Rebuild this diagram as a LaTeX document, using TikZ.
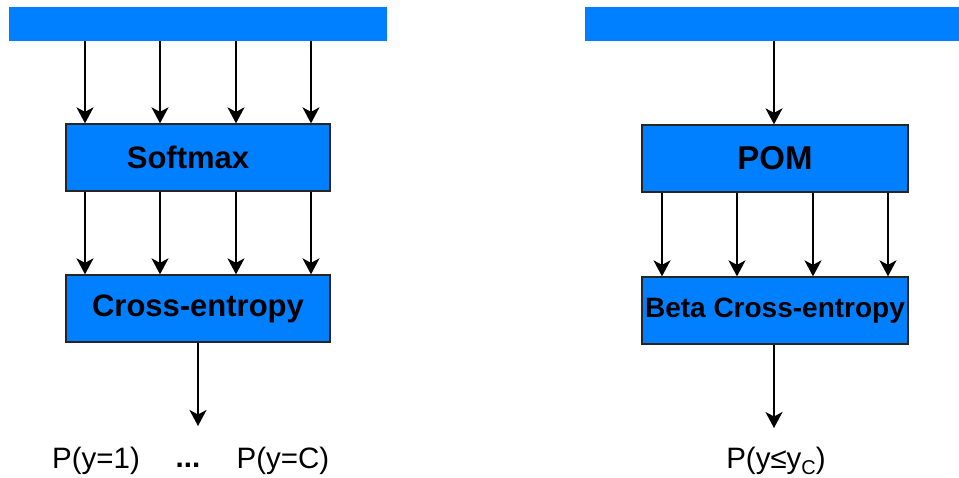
\documentclass[tikz,border=0pt]{standalone}
\usepackage{fontspec}
\setmainfont{Liberation Sans}
\usetikzlibrary{arrows.meta}
\definecolor{boxblue}{RGB}{0,128,255}
\begin{document}
\begin{tikzpicture}[x=1pt,y=-1pt,
  bar/.style={fill=boxblue,draw=none,inner sep=0pt,minimum width=#1,minimum height=34pt},
  layer/.style={fill=boxblue,draw=black!85,line width=1.3pt,inner sep=0pt,minimum width=#1,minimum height=67pt,font=\bfseries\fontsize{31}{36}\selectfont},
  arr/.style={line width=1.9pt,-{Stealth[length=16pt,width=17pt,inset=4.5pt]}},
  lbl/.style={inner sep=0pt,font=\fontsize{29.5}{34}\selectfont}]
\useasboundingbox (0,0) rectangle (959,478);
% left
\node[bar=378pt] (lbar) at (198,24) {};
\node[layer=264pt] (sm) at (198,157.5) {Softmax\hspace*{20pt}};
\node[layer=264pt] (ce) at (198,308.5) {Cross-entropy};
\foreach \x in {85,160,236,311}{
  \draw[arr] (lbar.south -| \x,0) -- (sm.north -| \x,0);
  \draw[arr] (sm.south -| \x,0) -- (ce.north -| \x,0);
}
\coordinate (lend) at (198,426);
\draw[arr] (ce.south) -- (lend);
\node[lbl] (p1) at (96,461) {P(y=1)};
\node[lbl,font=\bfseries\fontsize{29.5}{34}\selectfont] (dots) at (188,465) {...};
\node[lbl] (pc) at (283,461) {P(y=C)};
% right
\node[bar=374pt] (rbar) at (772,24) {};
\node[layer=266pt,font=\bfseries\fontsize{33}{38}\selectfont] (pom) at (775,158.5) {POM};
\node[layer=266pt,font=\bfseries\fontsize{28}{33}\selectfont] (bce) at (775,310.5) {Beta Cross-entropy};
\draw[arr] (rbar.south -| 774,0) -- (pom.north -| 774,0);
\foreach \x in {662,737,813,888}{
  \draw[arr] (pom.south -| \x,0) -- (bce.north -| \x,0);
}
\coordinate (rend) at (774,428);
\draw[arr] (bce.south -| 774,0) -- (rend);
\node[lbl] (pr) at (776,461) {P(y≤y\raisebox{-6pt}{\fontsize{20}{24}\selectfont C})};
\end{tikzpicture}
\end{document}
